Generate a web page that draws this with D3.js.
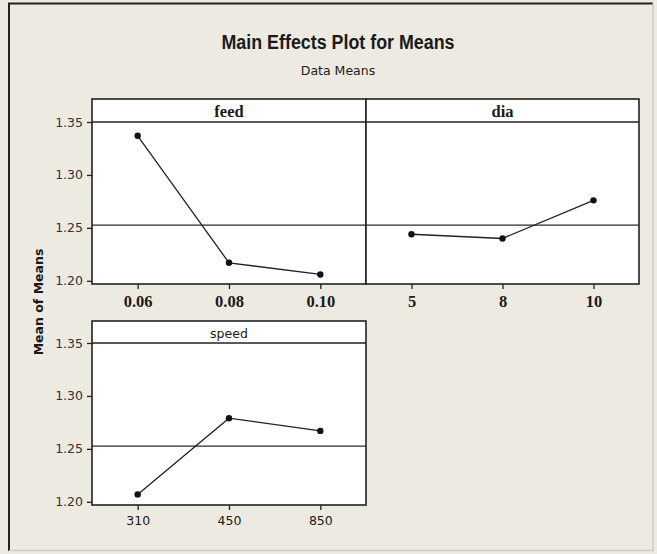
<!DOCTYPE html>
<html>
<head>
<meta charset="utf-8">
<script src="https://cdn.jsdelivr.net/npm/d3@7"></script>
<style>
  html, body { margin: 0; padding: 0; background: #edeae1; }
  svg { display: block; }
</style>
</head>
<body>
<svg id="chart"></svg>
<script>
// Main Effects Plot for Means (Minitab style)

// data
const feedLevels = ["0.06", "0.08", "0.10"];
const feedMeans = [1.337, 1.217, 1.206];
const diaLevels = ["5", "8", "10"];
const diaMeans = [1.244, 1.240, 1.276];
const speedLevels = ["310", "450", "850"];
const speedMeans = [1.207, 1.279, 1.267];
const yTicks = [1.20, 1.25, 1.30, 1.35];
const yDomain = [1.197, 1.35];

const width = 657;
const height = 554;

const grandMean = d3.mean([...feedMeans, ...diaMeans, ...speedMeans]);

const svg = d3.select("#chart")
    .attr("width", width)
    .attr("height", height);

// background + frame
svg.append("rect")
    .attr("x", 0).attr("y", 0)
    .attr("width", width).attr("height", height)
    .attr("fill", "#edeae1");
svg.append("path")
    .attr("d", "M9,551 V3.5 H653")
    .attr("fill", "none")
    .attr("stroke", "#222")
    .attr("stroke-width", 2);
svg.append("path")
    .attr("d", "M653,3.5 V550.5 H9")
    .attr("fill", "none")
    .attr("stroke", "#cfccc3")
    .attr("stroke-width", 1.5);

// titles
svg.append("text")
    .attr("x", 338).attr("y", 49)
    .attr("text-anchor", "middle")
    .attr("textLength", 233)
    .attr("lengthAdjust", "spacingAndGlyphs")
    .style("font-family", "'Liberation Sans', Arial, sans-serif")
    .style("font-weight", "bold")
    .style("font-size", "19.5px")
    .style("fill", "#1a1a1a")
    .text("Main Effects Plot for Means");

svg.append("text")
    .attr("x", 338).attr("y", 75)
    .attr("text-anchor", "middle")
    .style("font-family", "'DejaVu Sans', sans-serif")
    .style("font-size", "12.5px")
    .style("fill", "#222")
    .text("Data Means");

// y axis title
svg.append("text")
    .attr("transform", "translate(43,302) rotate(-90)")
    .attr("text-anchor", "middle")
    .style("font-family", "'DejaVu Sans', sans-serif")
    .style("font-weight", "bold")
    .style("font-size", "12.5px")
    .style("fill", "#1a1a1a")
    .text("Mean of Means");

const serifBold = { family: "'Liberation Serif', 'Times New Roman', serif", weight: "bold", size: "16.5px" };
const sansPlain = { family: "'DejaVu Sans', sans-serif", weight: "normal", size: "12.5px" };

function drawPanel(p) {
    const g = svg.append("g");

    const x = d3.scalePoint()
        .domain(p.levels)
        .range([p.x0, p.x1])
        .padding(0.5);
    const y = d3.scaleLinear()
        .domain(yDomain)
        .range([p.bottom, p.headerBottom]);

    // white plot area + header strip
    g.append("rect")
        .attr("x", p.x0).attr("y", p.top)
        .attr("width", p.x1 - p.x0).attr("height", p.bottom - p.top)
        .attr("fill", "#fff");

    // reference line (grand mean)
    g.append("line")
        .attr("x1", p.x0).attr("x2", p.x1)
        .attr("y1", y(grandMean)).attr("y2", y(grandMean))
        .attr("stroke", "#2a2a2a")
        .attr("stroke-width", 1.3);

    // header bottom line
    g.append("line")
        .attr("x1", p.x0).attr("x2", p.x1)
        .attr("y1", p.headerBottom).attr("y2", p.headerBottom)
        .attr("stroke", "#222")
        .attr("stroke-width", 1.6);

    g.append("rect")
        .attr("x", p.x0).attr("y", p.top)
        .attr("width", p.x1 - p.x0).attr("height", p.bottom - p.top)
        .attr("fill", "none")
        .attr("stroke", "#222")
        .attr("stroke-width", 1.6);

    g.append("text")
        .attr("x", (p.x0 + p.x1) / 2)
        .attr("y", p.headerBottom - 5)
        .attr("text-anchor", "middle")
        .style("font-family", p.headFont.family)
        .style("font-weight", p.headFont.weight)
        .style("font-size", p.headFont.size)
        .style("fill", "#1a1a1a")
        .text(p.name);

    // x axis
    const xAxis = g.append("g")
        .attr("transform", `translate(0,${p.bottom})`)
        .call(d3.axisBottom(x).tickSize(5).tickPadding(6));
    xAxis.select(".domain").remove();
    xAxis.selectAll("line").attr("stroke", "#222").attr("stroke-width", 1.3);
    xAxis.selectAll("text")
        .style("font-family", p.tickFont.family)
        .style("font-weight", p.tickFont.weight)
        .style("font-size", p.tickFont.size)
        .style("fill", "#1a1a1a");

    // y axis (left panels only)
    if (p.yAxis) {
        const yAxis = g.append("g")
            .attr("transform", `translate(${p.x0},0)`)
            .call(d3.axisLeft(y).tickValues(yTicks).tickFormat(d3.format(".2f")).tickSize(5).tickPadding(4));
        yAxis.select(".domain").remove();
        yAxis.selectAll("line").attr("stroke", "#222").attr("stroke-width", 1.3);
        yAxis.selectAll("text")
            .style("font-family", sansPlain.family)
            .style("font-size", sansPlain.size)
            .style("fill", "#333");
    }

    // means line + points
    const pts = p.levels.map((l, i) => [x(l), y(p.means[i])]);
    g.append("path")
        .datum(pts)
        .attr("d", d3.line())
        .attr("fill", "none")
        .attr("stroke", "#222")
        .attr("stroke-width", 1.3);
    g.selectAll("circle.pt")
        .data(pts)
        .enter()
        .append("circle")
        .attr("class", "pt")
        .attr("cx", d => d[0])
        .attr("cy", d => d[1])
        .attr("r", 3.2)
        .attr("fill", "#111");
}

// top row: feed | dia
drawPanel({ name: "feed", levels: feedLevels, means: feedMeans, x0: 92, x1: 366,
    top: 99, headerBottom: 122, bottom: 284, yAxis: true, headFont: serifBold, tickFont: serifBold });
drawPanel({ name: "dia", levels: diaLevels, means: diaMeans, x0: 366, x1: 639,
    top: 99, headerBottom: 122, bottom: 284, yAxis: false, headFont: serifBold, tickFont: serifBold });
// bottom row: speed
drawPanel({ name: "speed", levels: speedLevels, means: speedMeans, x0: 92, x1: 366,
    top: 321, headerBottom: 343, bottom: 505, yAxis: true, headFont: sansPlain, tickFont: sansPlain });
</script>
</body>
</html>
